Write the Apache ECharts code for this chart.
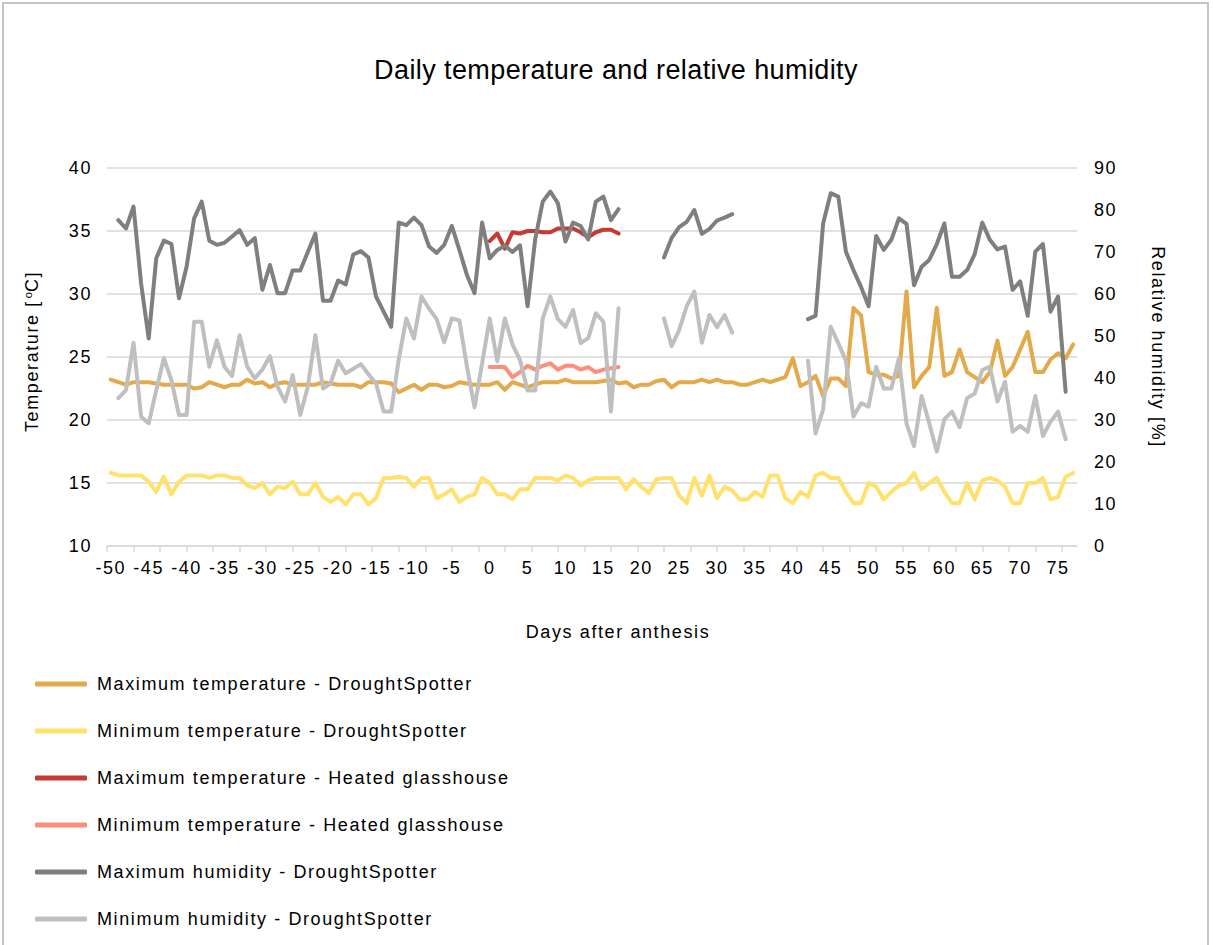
<!DOCTYPE html>
<html>
<head>
<meta charset="utf-8">
<title>Daily temperature and relative humidity</title>
<script src="https://cdn.jsdelivr.net/npm/echarts@6/dist/echarts.min.js"></script>
<style>
  html, body { margin: 0; padding: 0; background: #ffffff; }
  #chart { width: 1213px; height: 945px; }
  /* loose tracking for all chart text, a tighter one for the 27px heading */
  #chart svg text { letter-spacing: 1.6px; }
  #chart svg text[style*="27px"], #chart svg text[font-size="27px"], #chart svg text[font-size="27"] { letter-spacing: 0.4px; }
</style>
</head>
<body>
<div id="chart"></div>
<script>
// Days after anthesis (x values)
const days = [
  -50, -49, -48, -47, -46, -45, -44, -43, -42, -41,
  -40, -39, -38, -37, -36, -35, -34, -33, -32, -31,
  -30, -29, -28, -27, -26, -25, -24, -23, -22, -21,
  -20, -19, -18, -17, -16, -15, -14, -13, -12, -11,
  -10, -9, -8, -7, -6, -5, -4, -3, -2, -1,
  0, 1, 2, 3, 4, 5, 6, 7, 8, 9,
  10, 11, 12, 13, 14, 15, 16, 17, 18, 19,
  20, 21, 22, 23, 24, 25, 26, 27, 28, 29,
  30, 31, 32, 33, 34, 35, 36, 37, 38, 39,
  40, 41, 42, 43, 44, 45, 46, 47, 48, 49,
  50, 51, 52, 53, 54, 55, 56, 57, 58, 59,
  60, 61, 62, 63, 64, 65, 66, 67, 68, 69,
  70, 71, 72, 73, 74, 75, 76, 77
];

// Maximum temperature - DroughtSpotter (°C)
const maxTempDS = [
  23.2, 23.0, 22.8, 23.0, 23.0, 23.0, 22.9, 22.8, 22.8, 22.8,
  22.8, 22.5, 22.6, 23.0, 22.8, 22.6, 22.8, 22.8, 23.2, 22.9,
  23.0, 22.6, 22.9, 23.0, 22.8, 22.8, 22.8, 22.8, 23.0, 22.9,
  22.8, 22.8, 22.8, 22.6, 23.0, 23.0, 23.0, 22.9, 22.2, 22.5,
  22.8, 22.4, 22.8, 22.8, 22.6, 22.7, 23.0, 22.9, 22.8, 22.8,
  22.8, 23.0, 22.4, 23.0, 22.8, 22.6, 22.8, 23.0, 23.0, 23.0,
  23.2, 23.0, 23.0, 23.0, 23.0, 23.1, 23.2, 22.9, 23.0, 22.6,
  22.8, 22.8, 23.1, 23.2, 22.6, 23.0, 23.0, 23.0, 23.2, 23.0,
  23.2, 23.0, 23.0, 22.8, 22.8, 23.0, 23.2, 23.0, 23.2, 23.4,
  24.9, 22.7, 23.0, 23.5, 21.9, 23.3, 23.3, 22.7, 28.9, 28.3,
  23.8, 23.6, 23.6, 23.3, 23.5, 30.2, 22.6, 23.5, 24.2, 28.9,
  23.5, 23.8, 25.6, 23.8, 23.4, 23.0, 23.8, 26.3, 23.5, 24.2,
  25.6, 27.0, 23.8, 23.8, 24.8, 25.3, 24.9, 26.0
];

// Minimum temperature - DroughtSpotter (°C)
const minTempDS = [
  15.8, 15.6, 15.6, 15.6, 15.6, 15.1, 14.3, 15.5, 14.1, 15.1,
  15.6, 15.6, 15.6, 15.4, 15.6, 15.6, 15.4, 15.4, 14.8, 14.6,
  15.0, 14.1, 14.7, 14.6, 15.1, 14.1, 14.1, 15.0, 13.9, 13.5,
  13.9, 13.3, 14.1, 14.1, 13.3, 13.8, 15.4, 15.4, 15.5, 15.4,
  14.7, 15.4, 15.4, 13.8, 14.1, 14.5, 13.5, 13.9, 14.1, 15.4,
  15.0, 14.1, 14.1, 13.7, 14.5, 14.5, 15.4, 15.4, 15.4, 15.2,
  15.6, 15.4, 14.8, 15.2, 15.4, 15.4, 15.4, 15.4, 14.5, 15.3,
  14.7, 14.2, 15.3, 15.4, 15.4, 14.0, 13.4, 15.4, 14.0, 15.6,
  13.8, 14.7, 14.4, 13.7, 13.7, 14.3, 13.9, 15.6, 15.6, 13.8,
  13.4, 14.3, 13.9, 15.6, 15.8, 15.4, 15.4, 14.3, 13.4, 13.4,
  15.0, 14.7, 13.7, 14.3, 14.8, 15.0, 15.8, 14.5, 15.0, 15.4,
  14.3, 13.4, 13.4, 15.0, 13.7, 15.2, 15.4, 15.2, 14.7, 13.4,
  13.4, 15.0, 15.0, 15.4, 13.7, 13.9, 15.5, 15.8
];

// Heated glasshouse records, days 0 to 17
const glasshouseDays = [0, 1, 2, 3, 4, 5, 6, 7, 8, 9, 10, 11, 12, 13, 14, 15, 16, 17];
const maxTempGH = [34.2, 34.8, 33.6, 34.9, 34.8, 35.0, 35.0, 34.9, 34.9, 35.2, 35.2, 35.2, 34.9, 34.5, 34.9, 35.1, 35.1, 34.8];
const minTempGH = [24.2, 24.2, 24.2, 23.4, 23.8, 24.3, 24.0, 24.3, 24.5, 24.0, 24.3, 24.3, 24.0, 24.2, 23.8, 24.0, 24.1, 24.2];

// Maximum relative humidity - DroughtSpotter (%), null = no record
const maxHumDS = [
  null, 77.6, 75.6, 80.8, 62.5, 49.4, 68.5, 72.7, 71.9, 59.0,
  66.5, 78.0, 82.0, 72.7, 71.7, 72.2, 73.7, 75.2, 71.7, 73.3,
  61.0, 66.9, 60.2, 60.2, 65.6, 65.6, 70.0, 74.4, 58.4, 58.4,
  63.2, 62.3, 69.4, 70.2, 68.7, 59.4, 55.8, 52.2, 77.0, 76.4,
  78.2, 76.4, 71.3, 69.8, 71.7, 76.2, 70.5, 64.5, 60.2, 77.0,
  68.5, 70.5, 71.5, 70.0, 71.6, 57.1, 73.0, 82.0, 84.4, 81.6,
  72.5, 77.0, 76.2, 73.0, 82.0, 83.2, 77.6, 80.2, null, null,
  null, null, null, 68.7, 73.3, 75.9, 77.2, 80.0, 74.3, 75.5,
  77.5, 78.2, 79.0, null, null, null, null, null, null, null,
  null, null, 54.0, 54.8, 76.8, 84.0, 83.2, 70.1, 65.7, 61.7,
  57.1, 73.8, 70.5, 72.9, 78.0, 76.7, 62.1, 66.5, 68.1, 71.9,
  76.8, 64.1, 64.1, 65.7, 69.5, 77.0, 72.9, 70.6, 71.3, 61.0,
  63.0, 54.8, 70.1, 71.9, 55.8, 59.4, 36.7, null
];

// Minimum relative humidity - DroughtSpotter (%), null = no record
const minHumDS = [
  null, 35.2, 37.1, 48.4, 30.8, 29.2, 37.1, 44.7, 39.5, 31.2,
  31.2, 53.4, 53.4, 42.7, 49.0, 42.7, 40.5, 50.2, 42.7, 39.9,
  42.0, 45.2, 37.9, 34.4, 40.7, 31.2, 37.9, 50.2, 37.5, 38.7,
  44.1, 41.1, 42.2, 43.3, 40.9, 38.7, 32.0, 32.0, 44.5, 54.2,
  49.4, 59.4, 56.5, 54.0, 48.5, 54.2, 53.7, 42.7, 33.0, 43.5,
  54.2, 44.0, 54.2, 48.0, 44.3, 37.0, 37.0, 54.2, 59.4, 54.0,
  52.2, 56.2, 48.3, 49.5, 55.4, 53.4, 32.0, 56.6, null, null,
  null, null, null, 54.2, 47.6, 51.4, 57.1, 60.6, 48.4, 55.0,
  52.1, 55.0, 50.8, null, null, null, null, null, null, null,
  null, null, 44.1, 26.8, 32.5, 52.2, 48.3, 44.1, 30.8, 34.0,
  33.2, 42.7, 37.5, 37.5, 44.7, 29.2, 23.8, 35.7, 29.2, 22.5,
  30.2, 32.0, 28.3, 35.2, 36.3, 41.9, 42.7, 34.4, 39.1, 27.2,
  28.6, 27.2, 35.7, 26.2, 29.6, 32.0, 25.4, null
];

// Axis labels and tick marks along the day axis
const xLabelValues = [-50, -45, -40, -35, -30, -25, -20, -15, -10, -5, 0, 5, 10, 15, 20, 25, 30, 35, 40, 45, 50, 55, 60, 65, 70, 75];
const xTickValues = [-50.5, -47, -43.5, -40, -36.5, -33, -29.5, -26, -22.5, -19, -15.5, -12, -8.5, -5, -1.5, 2, 5.5, 9, 12.5, 16, 19.5, 23, 26.5, 30, 33.5, 37, 40.5, 44, 47.5, 51, 54.5, 58, 61.5, 65, 68.5, 72, 75.5];

const seriesNames = [
  'Maximum temperature - DroughtSpotter',
  'Minimum temperature - DroughtSpotter',
  'Maximum temperature - Heated glasshouse',
  'Minimum temperature - Heated glasshouse',
  'Maximum humidity - DroughtSpotter',
  'Minimum humidity - DroughtSpotter'
];
const seriesColors = ['#E2AA4A', '#FFE16C', '#C53A32', '#FF8D7B', '#7F7F7F', '#BFBFBF'];

const FONT = '"Liberation Sans", Arial, Helvetica, sans-serif';

function pairs(xs, ys) {
  return xs.map((x, i) => [x, ys[i] == null ? '-' : ys[i]]);
}

function lineSeries(idx, xs, ys, yAxisIndex) {
  return {
    name: seriesNames[idx],
    type: 'line',
    yAxisIndex: yAxisIndex,
    data: pairs(xs, ys),
    showSymbol: false,
    symbol: 'none',
    connectNulls: false,
    color: seriesColors[idx],
    lineStyle: { width: 4, color: seriesColors[idx], cap: 'round', join: 'round' },
    emphasis: { disabled: true },
    animation: false
  };
}

const chart = echarts.init(document.getElementById('chart'), null, { renderer: 'svg' });

chart.setOption({
  backgroundColor: '#ffffff',
  animation: false,
  textStyle: { fontFamily: FONT },
  grid: { left: 107, right: 136, top: 168, bottom: 399, containLabel: false },
  xAxis: {
    type: 'value',
    min: -50.5,
    max: 77.5,
    axisLine: { show: true, lineStyle: { color: '#D9D9D9', width: 1.5 } },
    axisTick: { show: true, length: 6, customValues: xTickValues, lineStyle: { color: '#D9D9D9', width: 1.5 } },
    axisLabel: { customValues: xLabelValues, color: '#000000', fontSize: 18, fontFamily: FONT, margin: 13 },
    splitLine: { show: false }
  },
  yAxis: [
    {
      type: 'value',
      min: 10,
      max: 40,
      interval: 5,
      position: 'left',
      axisLine: { show: false },
      axisTick: { show: false },
      axisLabel: { color: '#000000', fontSize: 18, fontFamily: FONT, margin: 15 },
      splitLine: { show: true, lineStyle: { color: '#D9D9D9', width: 1.5 } }
    },
    {
      type: 'value',
      min: 0,
      max: 90,
      interval: 10,
      position: 'right',
      axisLine: { show: false },
      axisTick: { show: false },
      axisLabel: { color: '#000000', fontSize: 18, fontFamily: FONT, margin: 17 },
      splitLine: { show: false }
    }
  ],
  legend: {
    orient: 'vertical',
    left: 30,
    top: 669,
    itemWidth: 52,
    itemHeight: 5,
    itemGap: 27,
    icon: 'roundRect',
    selectedMode: false,
    textStyle: { color: '#000000', fontSize: 18, fontFamily: FONT, lineHeight: 20, padding: [0, 0, 0, 5] },
    data: seriesNames
  },
  graphic: [
    {
      type: 'rect',
      silent: true,
      shape: { x: 3, y: 3, width: 1205, height: 960 },
      style: { fill: 'none', stroke: '#C4C4C4', lineWidth: 2 }
    },
    {
      type: 'text',
      silent: true,
      x: 616,
      y: 70,
      style: {
        text: 'Daily temperature and relative humidity',
        fill: '#000000',
        font: '27px ' + FONT,
        textAlign: 'center',
        textVerticalAlign: 'middle'
      }
    },
    {
      // left axis title, read bottom to top, with a raised "o"
      type: 'text',
      silent: true,
      x: 32,
      y: 347,
      rotation: Math.PI / 2,
      style: {
        text: '{a|Temperature [}{sup|o}{b|C]}',
        fill: '#000000',
        font: '18px ' + FONT,
        align: 'center',
        verticalAlign: 'middle',
        rich: {
          a: { fontSize: 18, fontFamily: FONT, lineHeight: 20, fill: '#000000' },
          sup: { fontSize: 11, fontFamily: FONT, lineHeight: 20, verticalAlign: 'top', fill: '#000000', padding: [0, 0, 0, 13] },
          b: { fontSize: 18, fontFamily: FONT, lineHeight: 20, fill: '#000000', padding: [0, 0, 0, 1] }
        }
      }
    },
    {
      // right axis title, read top to bottom
      type: 'text',
      silent: true,
      x: 1158,
      y: 347,
      rotation: -Math.PI / 2,
      style: {
        text: 'Relative humidity [%]',
        fill: '#000000',
        font: '18px ' + FONT,
        textAlign: 'center',
        textVerticalAlign: 'middle'
      }
    },
    {
      type: 'text',
      silent: true,
      x: 618,
      y: 632,
      style: {
        text: 'Days after anthesis',
        fill: '#000000',
        font: '18px ' + FONT,
        textAlign: 'center',
        textVerticalAlign: 'middle'
      }
    }
  ],
  series: [
    lineSeries(0, days, maxTempDS, 0),
    lineSeries(1, days, minTempDS, 0),
    lineSeries(2, glasshouseDays, maxTempGH, 0),
    lineSeries(3, glasshouseDays, minTempGH, 0),
    lineSeries(4, days, maxHumDS, 1),
    lineSeries(5, days, minHumDS, 1)
  ]
});
</script>
</body>
</html>
